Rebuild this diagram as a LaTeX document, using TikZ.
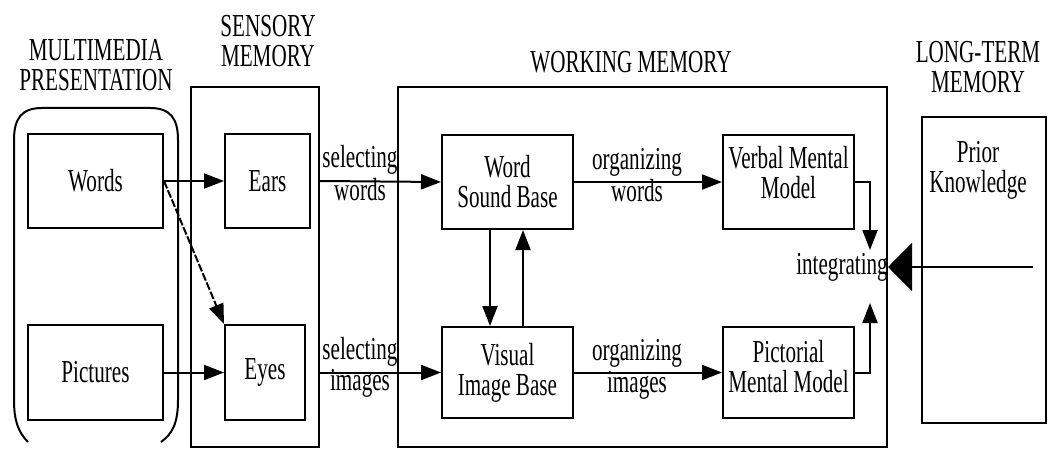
\documentclass[tikz,border=0pt]{standalone}
\usepackage{fontspec}
\setmainfont[FakeStretch=0.66]{Liberation Serif}
\usetikzlibrary{arrows.meta}
\newcommand\fs{\fontsize{32}{30}\selectfont}
\tikzset{
  box/.style={draw, line width=2pt, inner sep=0pt, align=center, font=\fs},
  lbl/.style={align=center, inner sep=0pt, font=\fs},
  arr/.style={line width=2pt, -{Triangle[length=20pt,width=15pt]}},
  bigarr/.style={line width=2pt, -{Triangle[length=24pt,width=48pt]}}
}
\begin{document}
\begin{tikzpicture}[x=1pt,y=-1pt]
\useasboundingbox (0,0) rectangle (1048,449);
% outer group boxes
\node[box, minimum width=128, minimum height=360] (sensory) at (255,267) {};
\node[box, minimum width=489, minimum height=360] (working) at (642.5,267) {};
\node[box, minimum width=124, minimum height=306] (ltm) at (984,270) {};
% bracket around multimedia presentation
\draw[line width=2pt] (28,442) .. controls (18,432) and (14,420) .. (14,400)
  -- (14,140) .. controls (14,118) and (22,108) .. (42,108) -- (150,108)
  .. controls (170,108) and (178,118) .. (178,140) -- (178,400)
  .. controls (178,424) and (172,434) .. (161,442);
% headers
\node[lbl] (hmm) at (96,65) {MULTIMEDIA\\PRESENTATION};
\node[lbl] (hsm) at (268,41) {SENSORY\\MEMORY};
\node[lbl] (hwm) at (631,62) {WORKING MEMORY};
\node[lbl] (hltm) at (978,67) {LONG-TERM\\MEMORY};
\node[lbl] (prior) at (978,170) {Prior\\Knowledge};
% inner boxes
\node[box, minimum width=135, minimum height=94] (words) at (95.5,181) {Words};
\node[box, minimum width=135, minimum height=95] (pictures) at (95.5,372.5) {Pictures};
\node[box, minimum width=85, minimum height=94] (ears) at (267.5,181) {Ears};
\node[box, minimum width=80, minimum height=95] (eyes) at (265,372.5) {Eyes};
\node[box, minimum width=131, minimum height=94] (wsb) at (507.5,182) {Word\\Sound Base};
\node[box, minimum width=131, minimum height=91] (vib) at (507.5,372.5) {Visual\\Image Base};
\node[box, minimum width=131, minimum height=94] (verbal) at (788.5,182) {};
\node[lbl] (verbaltxt) at (788.5,173) {Verbal Mental\\Model};
\node[box, minimum width=131, minimum height=91] (pictorial) at (788.5,372.5) {};
\node[lbl] (pictorialtxt) at (788.5,367) {Pictorial\\Mental Model};
\node[lbl] (integ) at (842,267) {integrating};
% arrow labels
\node[lbl] (selw1) at (360,160) {selecting};
\node[lbl] (selw2) at (360,190) {words};
\node[lbl] (seli1) at (360,352) {selecting};
\node[lbl] (seli2) at (360,383) {images};
\node[lbl] (orgw1) at (637,162) {organizing};
\node[lbl] (orgw2) at (637,191) {words};
\node[lbl] (orgi1) at (637,353) {organizing};
\node[lbl] (orgi2) at (637,385) {images};
% connectors
\draw[arr] (words.east) -- (ears.west);
\draw[arr, dash pattern=on 8pt off 2pt] (words.east) -- (eyes.north west);
\draw[arr] (pictures.east) -- (eyes.west);
\draw[arr] (sensory.east |- ears.east) -- (wsb.west);
\draw[arr] (sensory.east |- eyes.east) -- (vib.west);
\draw[arr] ([xshift=-17.5pt]wsb.south) -- ([xshift=-17.5pt]wsb.south |- vib.north);
\draw[arr] ([xshift=15.5pt]vib.north) -- ([xshift=15.5pt]vib.north |- wsb.south);
\draw[arr] (wsb.east) -- (verbal.west);
\draw[arr] (vib.east) -- (pictorial.west);
\coordinate (vtip) at (870,250);
\coordinate (ptip) at (870,303);
\draw[arr] (verbal.east) -| (vtip);
\draw[arr] (pictorial.east) -| (ptip);
\coordinate (ltmstart) at (1033,267);
\coordinate (itip) at (888,267);
\draw[bigarr] (ltmstart) -- (itip);
\end{tikzpicture}
\end{document}
